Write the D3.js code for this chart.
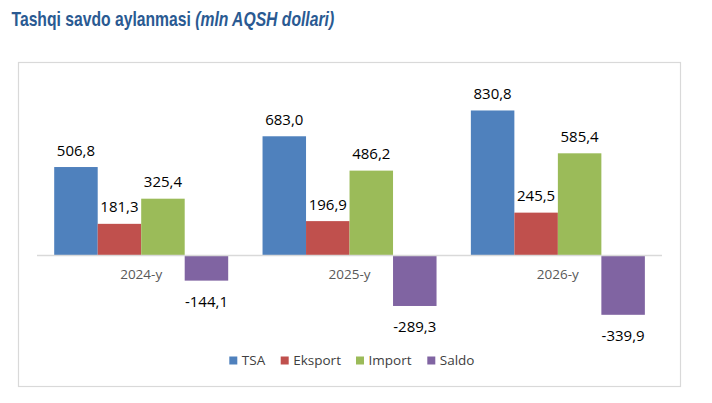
<!DOCTYPE html>
<html><head><meta charset="utf-8">
<script src="https://cdn.jsdelivr.net/npm/d3@7"></script>
<style>html,body{margin:0;padding:0;background:#fff;}svg{display:block;}</style>
</head><body>
<svg id="c" width="712" height="403"></svg>
<script>
const categories = ["2024-y", "2025-y", "2026-y"];
const seriesNames = ["TSA", "Eksport", "Import", "Saldo"];
const tsa = [506.8, 683.0, 830.8];
const eksport = [181.3, 196.9, 245.5];
const importVals = [325.4, 486.2, 585.4];
const saldo = [-144.1, -289.3, -339.9];
const colors = ["#4F81BD", "#C0504D", "#9BBB59", "#8064A2"];

const seriesValues = [tsa, eksport, importVals, saldo];
const data = categories.map((c, i) => ({
  cat: c,
  vals: seriesNames.map((s, j) => ({ key: s, value: seriesValues[j][i], color: colors[j] }))
}));

const svg = d3.select("#c");

// Title
const title = svg.append("text")
  .attr("transform", "translate(11.5,26) scale(0.785,1)")
  .attr("font-family", "Liberation Sans, Arial, sans-serif")
  .attr("font-size", 20).attr("font-weight", "bold").attr("fill", "#2A5A92");
title.append("tspan").text("Tashqi savdo aylanmasi ");
title.append("tspan").attr("font-style", "italic").text("(mln AQSH dollari)");

// Frame
svg.append("rect").attr("x", 18.5).attr("y", 62.5).attr("width", 662).attr("height", 324)
  .attr("fill", "#fff").attr("stroke", "#D9D9D9").attr("stroke-width", 1.2);

const x0 = d3.scaleBand().domain(categories).range([37, 662]).paddingInner(0).paddingOuter(0);
const x1 = d3.scaleBand().domain(seriesNames).range([17.2, 191.2]).padding(0);
const y = d3.scaleLinear().domain([-400, 900]).range([325.3, 98.4]);

const fmt = v => d3.format(".1f")(v).replace(".", ",").replace("−", "-");

const groups = svg.append("g").selectAll("g").data(data).join("g")
  .attr("transform", d => `translate(${x0(d.cat)},0)`);

groups.selectAll("rect").data(d => d.vals).join("rect")
  .attr("x", d => x1(d.key))
  .attr("y", d => Math.min(y(d.value), y(0)))
  .attr("width", x1.bandwidth())
  .attr("height", d => Math.abs(y(d.value) - y(0)))
  .attr("fill", d => d.color);

groups.selectAll("text.lbl").data(d => d.vals).join("text").attr("class", "lbl")
  .attr("x", d => x1(d.key) + x1.bandwidth() / 2)
  .attr("y", d => d.value >= 0 ? y(d.value) - 11.5 : y(d.value) + 26)
  .attr("text-anchor", "middle")
  .attr("font-family", "Open Sans, sans-serif").attr("font-size", 15).attr("fill", "#000")
  .text(d => fmt(d.value));

// Zero axis line
svg.append("line").attr("x1", 37).attr("x2", 662).attr("y1", y(0)).attr("y2", y(0))
  .attr("stroke", "#D9D9D9").attr("stroke-width", 1.3);

// Category labels
svg.append("g").selectAll("text").data(categories).join("text")
  .attr("x", d => x0(d) + x0.bandwidth() / 2).attr("y", 279)
  .attr("text-anchor", "middle")
  .attr("font-family", "Open Sans, sans-serif").attr("font-size", 13.5).attr("fill", "#595959")
  .text(d => d);

// Legend
const legendX = [229.3, 280.7, 356, 427.3];
const lg = svg.append("g").selectAll("g").data(seriesNames).join("g")
  .attr("transform", (d, i) => `translate(${legendX[i]},356.5)`);
lg.append("rect").attr("width", 8).attr("height", 8).attr("fill", (d, i) => colors[i]);
lg.append("text").attr("x", 12.5).attr("y", 8.5)
  .attr("font-family", "Open Sans, sans-serif").attr("font-size", 13.5).attr("fill", "#404040")
  .text(d => d);
</script>
</body></html>
